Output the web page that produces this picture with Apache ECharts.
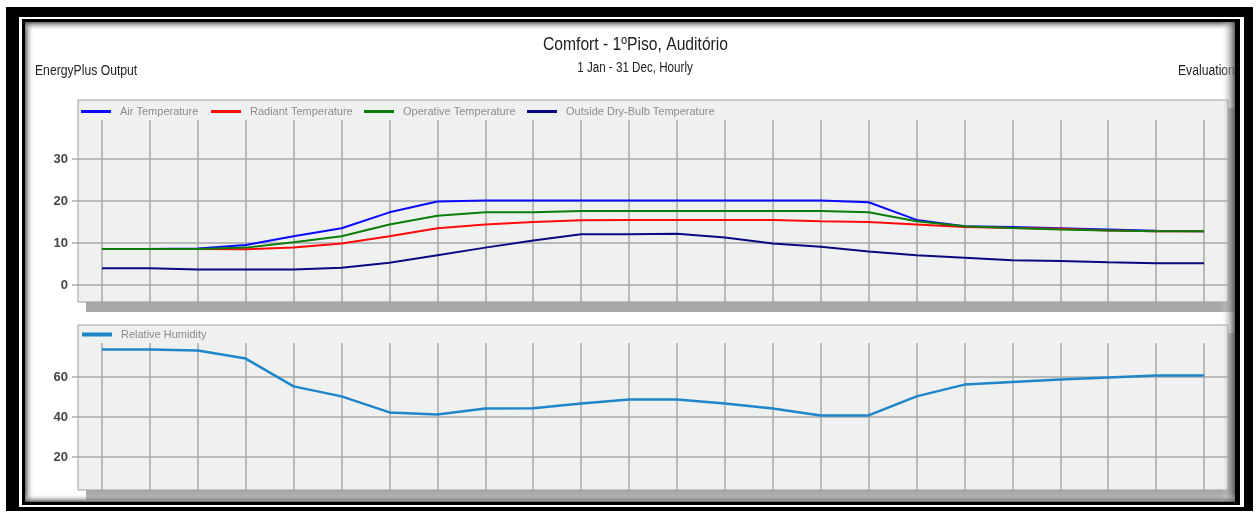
<!DOCTYPE html>
<html>
<head>
<meta charset="utf-8">
<script src="https://cdn.jsdelivr.net/npm/echarts@6/dist/echarts.min.js"></script>
<style>
  html, body { margin: 0; padding: 0; background: #ffffff; }
  #chart { width: 1256px; height: 512px; }
</style>
</head>
<body>
<div id="chart"></div>
<script>
// Half-month sample points over the year
const periods = [
  '01 Jan', '16 Jan', '01 Feb', '15 Feb', '01 Mar', '16 Mar',
  '01 Apr', '16 Apr', '01 May', '16 May', '01 Jun', '16 Jun',
  '01 Jul', '16 Jul', '01 Aug', '16 Aug', '01 Sep', '16 Sep',
  '01 Oct', '16 Oct', '01 Nov', '16 Nov', '01 Dec', '31 Dec'
];

// Temperatures (°C)
const airTemperature = [8.6, 8.6, 8.7, 9.5, 11.6, 13.5, 17.3, 19.9, 20.1, 20.1, 20.1, 20.1,
                        20.1, 20.1, 20.1, 20.1, 19.7, 15.5, 14.0, 13.8, 13.5, 13.2, 12.9, 12.8];
const radiantTemperature = [8.6, 8.6, 8.6, 8.5, 8.9, 9.9, 11.6, 13.5, 14.4, 15.0, 15.4, 15.5,
                            15.5, 15.5, 15.5, 15.2, 15.0, 14.4, 13.8, 13.6, 13.4, 13.0, 12.8, 12.8];
const operativeTemperature = [8.6, 8.6, 8.6, 8.9, 10.2, 11.6, 14.4, 16.5, 17.3, 17.3, 17.6, 17.6,
                              17.6, 17.6, 17.6, 17.6, 17.3, 15.2, 14.0, 13.6, 13.2, 13.0, 12.8, 12.8];
const outsideDryBulb = [4.0, 4.0, 3.7, 3.7, 3.7, 4.1, 5.3, 7.1, 8.9, 10.6, 12.1, 12.1,
                        12.2, 11.3, 9.9, 9.1, 8.0, 7.1, 6.5, 5.9, 5.7, 5.4, 5.2, 5.2];

// Relative humidity (%)
const relativeHumidity = [73.7, 73.7, 73.3, 69.2, 55.3, 50.3, 42.3, 41.3, 44.2, 44.4, 46.7, 48.7,
                          48.7, 46.7, 44.2, 40.8, 40.8, 50.3, 56.2, 57.5, 58.7, 59.7, 60.7, 60.7];

// Value-axis tick labels
const temperatureTicks = [0, 10, 20, 30];
const humidityTicks = [20, 40, 60];

const FONT = '"Liberation Sans", Arial, sans-serif';
const GRID_LINE = '#a9a9a9';
const PANEL_BG = '#eff0f0';
const PANEL_EDGE = '#9e9e9e';
const SHADOW = '#a8a8a8';

const chart = echarts.init(document.getElementById('chart'), null, { renderer: 'canvas' });

function valueAxis(gridIndex, ticks) {
  return {
    gridIndex: gridIndex,
    type: 'value',
    min: ticks[0],
    max: ticks[ticks.length - 1],
    interval: ticks[1] - ticks[0],
    axisLine: { show: false },
    axisTick: { show: true, length: 6, lineStyle: { color: GRID_LINE, width: 1.5 } },
    axisLabel: { margin: 10, fontSize: 13, fontWeight: 'bold', color: '#454545', fontFamily: FONT },
    splitLine: { show: true, lineStyle: { color: GRID_LINE, width: 1.5 } }
  };
}

function hiddenValueAxis(gridIndex) {
  return { gridIndex: gridIndex, type: 'value', min: 0, max: 1, show: false, splitLine: { show: false } };
}

function centerAxis(gridIndex) {
  return {
    gridIndex: gridIndex, type: 'category', data: periods, boundaryGap: true,
    axisLine: { show: false }, axisTick: { show: false }, axisLabel: { show: false },
    splitLine: { show: false }
  };
}

function columnAxis(gridIndex) {
  return {
    gridIndex: gridIndex, type: 'category', data: periods, boundaryGap: false,
    axisLine: { show: false }, axisTick: { show: false }, axisLabel: { show: false },
    splitLine: { show: true, interval: 0, lineStyle: { color: GRID_LINE, width: 1.5 } }
  };
}

function lineSeries(name, data, color, xIdx, yIdx, width) {
  return {
    name: name, type: 'line', data: data,
    xAxisIndex: xIdx, yAxisIndex: yIdx,
    showSymbol: false, symbol: 'none', clip: false,
    lineStyle: { color: color, width: width },
    itemStyle: { color: color },
    emphasis: { disabled: true }
  };
}

function legendItem(name, left, top, swatchHeight) {
  return {
    data: [name], left: left, top: top, padding: 0,
    icon: 'rect', itemWidth: 30, itemHeight: swatchHeight,
    selectedMode: false,
    textStyle: { color: '#8c8c8c', fontSize: 11, fontFamily: FONT, padding: [0, 0, 0, 4] }
  };
}

function rect(x, y, w, h, fill, z, extra) {
  return Object.assign({ type: 'rect', z: z, silent: true, shape: { x: x, y: y, width: w, height: h }, style: { fill: fill } }, extra || {});
}

function fade(x, y, w, h, dir, from, to) {
  const g = dir === 'h'
    ? new echarts.graphic.LinearGradient(0, 0, 1, 0, [{ offset: 0, color: from }, { offset: 1, color: to }])
    : new echarts.graphic.LinearGradient(0, 0, 0, 1, [{ offset: 0, color: from }, { offset: 1, color: to }]);
  return rect(x, y, w, h, g, 90);
}

// Heading text, drawn with a slightly narrowed face
function label(text, x, y, size, align, narrow) {
  return {
    type: 'text', x: x, y: y, z: 50, silent: true,
    scaleX: narrow, scaleY: 1,
    style: {
      text: text, fill: '#222222', font: size + 'px ' + FONT,
      textAlign: align, textVerticalAlign: 'middle', align: align, verticalAlign: 'middle'
    }
  };
}

const option = {
  animation: false,
  backgroundColor: '#ffffff',
  grid: [
    { left: 78, right: 28, top: 159, bottom: 227 },   // temperature values
    { left: 102, right: 52, top: 120, bottom: 210 },  // temperature columns
    { left: 78, right: 28, top: 377, bottom: 55 },    // humidity values
    { left: 102, right: 52, top: 343, bottom: 22 }    // humidity columns
  ],
  xAxis: [centerAxis(0), columnAxis(1), centerAxis(2), columnAxis(3)],
  yAxis: [valueAxis(0, temperatureTicks), hiddenValueAxis(1), valueAxis(2, humidityTicks), hiddenValueAxis(3)],
  legend: [
    legendItem('Air Temperature', 81, 106, 3),
    legendItem('Radiant Temperature', 211, 106, 3),
    legendItem('Operative Temperature', 364, 106, 3),
    legendItem('Outside Dry-Bulb Temperature', 527, 106, 3),
    legendItem('Relative Humidity', 82, 329, 4)
  ],
  series: [
    lineSeries('Air Temperature', airTemperature, '#0a0aff', 0, 0, 2),
    lineSeries('Radiant Temperature', radiantTemperature, '#ff0a0a', 0, 0, 2),
    lineSeries('Operative Temperature', operativeTemperature, '#0a7d0a', 0, 0, 2),
    lineSeries('Outside Dry-Bulb Temperature', outsideDryBulb, '#0a0a80', 0, 0, 2),
    lineSeries('Relative Humidity', relativeHumidity, '#1f86c9', 2, 2, 2.5)
  ],
  graphic: [
    // plot panels and their drop shadows
    rect(86, 108, 1150, 204, SHADOW, -20),
    rect(78, 100, 1150, 202, PANEL_BG, -10, { style: { fill: PANEL_BG, stroke: PANEL_EDGE, lineWidth: 1 } }),
    rect(86, 333, 1150, 167, SHADOW, -20),
    rect(78, 325, 1150, 165, PANEL_BG, -10, { style: { fill: PANEL_BG, stroke: PANEL_EDGE, lineWidth: 1 } }),

    // headings
    label('Comfort - 1ºPiso, Auditório', 635.5, 45.5, 18, 'center', 0.87),
    label('1 Jan - 31 Dec, Hourly', 635, 68, 14, 'center', 0.83),
    label('EnergyPlus Output', 35, 71, 14, 'left', 0.87),
    label('Evaluation', 1178, 71, 14, 'left', 0.87),

    // window edge shading
    fade(25, 22, 9, 480, 'h', 'rgba(70,70,70,0.85)', 'rgba(255,255,255,0)'),
    fade(25, 22, 1210, 9, 'v', 'rgba(70,70,70,0.85)', 'rgba(255,255,255,0)'),
    fade(1221, 22, 14, 480, 'h', 'rgba(255,255,255,0)', 'rgba(80,80,80,0.9)'),
    fade(25, 494, 1210, 8, 'v', 'rgba(255,255,255,0)', 'rgba(70,70,70,0.85)'),

    // double black frame
    rect(6, 7, 13, 504, '#000', 100),
    rect(6, 7, 1247, 10, '#000', 100),
    rect(1244, 7, 9, 504, '#000', 100),
    rect(6, 507, 1247, 4, '#000', 100),
    rect(22, 19, 3, 486, '#000', 100),
    rect(22, 19, 1218, 3, '#000', 100),
    rect(1235, 19, 5, 486, '#000', 100),
    rect(22, 502, 1218, 3, '#000', 100)
  ]
};

chart.setOption(option);
</script>
</body>
</html>
